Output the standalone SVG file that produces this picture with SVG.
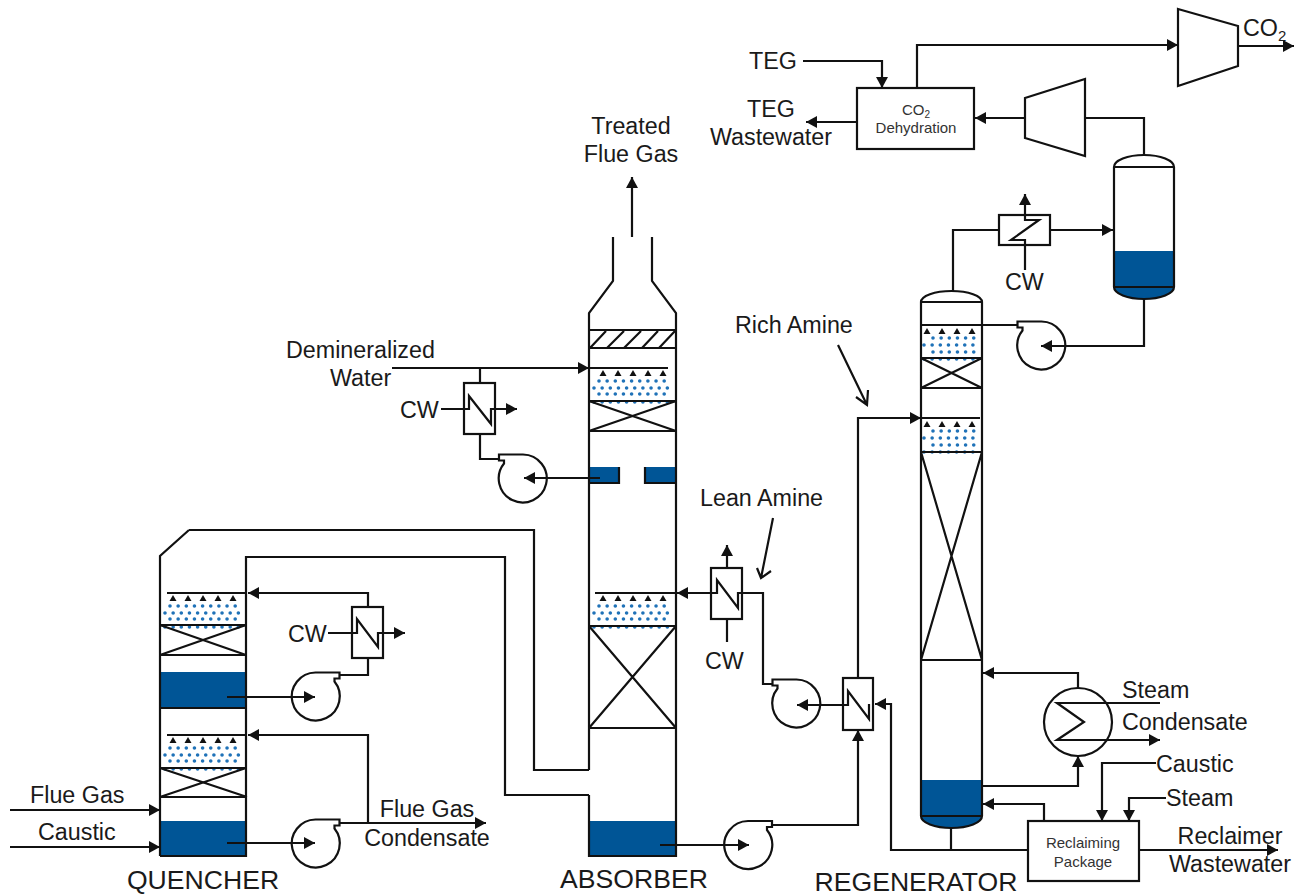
<svg xmlns="http://www.w3.org/2000/svg" xmlns:xlink="http://www.w3.org/1999/xlink" width="1303" height="895" viewBox="0 0 1303 895">
<style>
.l{fill:none;stroke:#111;stroke-width:2.2;stroke-linejoin:miter}
.a{marker-end:url(#ah)}
.w{fill:#fff;stroke:#111;stroke-width:2.2}
.b{fill:#005596;stroke:none}
.d{fill:none;stroke:#1f72b8;stroke-width:3.6;stroke-linecap:round;stroke-dasharray:0 8.15}
.t{font-family:"Liberation Sans",Arial,sans-serif;font-size:23.3px;fill:#1a1a1a}
.m{text-anchor:middle}
.s{font-size:15px;fill:#333}
.x{font-size:26.6px}
.n{fill:#111;stroke:none}
</style>
<defs>
<marker id="ah" markerUnits="userSpaceOnUse" markerWidth="14" markerHeight="14" refX="11" refY="7" orient="auto"><path d="M0,1L11,7L0,13Z" fill="#111"/></marker>
<g id="pump"><path class="l" d="M19,-15A24,24 0 1 1 0,-24H24V-18H19Z"/></g>
<g id="nz"><path class="n" d="M-3.500,6H3.500L0,0Z"/></g>
<g id="noz5"><use xlink:href="#nz" x="0" y="0"/><use xlink:href="#nz" x="15" y="0"/><use xlink:href="#nz" x="30" y="0"/><use xlink:href="#nz" x="45" y="0"/><use xlink:href="#nz" x="60" y="0"/></g>
<g id="noz4"><use xlink:href="#nz" x="0" y="0"/><use xlink:href="#nz" x="15" y="0"/><use xlink:href="#nz" x="30" y="0"/><use xlink:href="#nz" x="45" y="0"/></g>
<g id="d86"><path class="d" d="M10,13H78M5,20H82M10,26H78M5,34H82"/></g>
<g id="d60"><path class="d" d="M12,13H58M3,20H60M12,27H58M3,34H60"/></g>
</defs>
<rect width="1303" height="895" fill="#fff"/>

<g id="quencher">
<rect class="b" x="161" y="672" width="85" height="36"/>
<rect class="b" x="161" y="821" width="85" height="35"/>
<use xlink:href="#d86" x="160" y="593"/>
<use xlink:href="#d86" x="160" y="735"/>
<path class="l" d="M160,856V556L189,530M160,856H246V556M160,625H246M160,655H246M160,625L246,655M160,655L246,625M160,708H246M167,593H246M167,735H246M160,768H246M160,797H247M160,768L247,797M160,797L246,768"/>
<use xlink:href="#noz5" x="173" y="595"/>
<use xlink:href="#noz5" x="173" y="737"/>
<text class="t x m" x="203" y="889">QUENCHER</text>
</g>

<g id="absorber">
<rect class="b" x="590" y="467" width="29" height="16"/>
<rect class="b" x="645" y="467" width="31" height="16"/>
<rect class="b" x="590" y="821" width="86" height="35"/>
<use xlink:href="#d86" x="589" y="368"/>
<use xlink:href="#d86" x="589" y="593"/>
<path class="l" d="M613,237V281L589,313V770M589,795V856H676V313L652,281V237M589,330H676M589,348H676M590,348L606,331M607,348L624,331M624,348L641,331M642,348L658,331M659,348L675,331M589,368H668M589,401H676M589,431H677M589,401L676,431M589,431L676,401M619,467V483H590M645,467V483H676M595,593H676M589,626H676M589,728H677M589,626L676,728M589,728L676,626"/>
<use xlink:href="#noz5" x="603" y="370"/>
<use xlink:href="#noz5" x="603" y="595"/>
<text class="t x m" x="634" y="888">ABSORBER</text>
</g>

<g id="regenerator">
<rect class="b" x="922" y="780" width="60" height="36"/>
<path class="b" d="M921,816H982A30.500,12 0 0 1 921,816Z"/>
<use xlink:href="#d60" x="921" y="325"/>
<use xlink:href="#d60" x="921" y="418"/>
<path class="l" d="M921,816V302A30.500,11 0 0 1 982,302V816A30.500,12 0 0 1 921,816M921,302H982M921,816H982M921,325H982M921,358H982M921,388H982M921,358L982,388M921,388L982,358M921,418H980M921,452H982M921,660H982M921,452L982,660M982,452L921,660"/>
<use xlink:href="#noz4" x="927" y="328"/>
<use xlink:href="#noz4" x="927" y="421"/>
<text class="t x m" x="916" y="891">REGENERATOR</text>
</g>

<g id="reflux-drum">
<rect class="b" x="1115" y="251" width="59" height="36"/>
<path class="b" d="M1114,287H1174A30,12 0 0 1 1114,287Z"/>
<path class="l" d="M1114,287V167A30,12 0 0 1 1174,167V287A30,12 0 0 1 1114,287M1114,167H1174M1114,287H1174"/>
</g>

<g id="dehydration">
<rect class="w" x="857" y="88" width="117" height="61"/>
<text class="t s m" x="916" y="115">CO<tspan font-size="10" dy="3">2</tspan></text>
<text class="t s m" x="916" y="133">Dehydration</text>
</g>

<g id="reclaiming">
<rect class="w" x="1028" y="821" width="111" height="60"/>
<text class="t s m" x="1083" y="848">Reclaiming</text>
<text class="t s m" x="1083" y="867">Package</text>
</g>

<g id="compressor-1"><path class="l" d="M1025,98L1085,79V156L1025,138Z"/></g>
<g id="compressor-2"><path class="l" d="M1178,9L1238,26V66L1178,86Z"/></g>

<g id="reboiler"><circle class="l" cx="1078" cy="722" r="34"/></g>

<g id="pumps">
<use id="pump-q1" xlink:href="#pump" x="315.500" y="696.500"/>
<use id="pump-q2" xlink:href="#pump" x="315.500" y="843.500"/>
<use id="pump-a1" xlink:href="#pump" transform="translate(523,478.500) scale(-1,1)"/>
<use id="pump-a2" xlink:href="#pump" x="748" y="845"/>
<use id="pump-l" xlink:href="#pump" transform="translate(796.500,703.500) scale(-1,1)"/>
<use id="pump-r" xlink:href="#pump" transform="translate(1041.500,345.500) scale(-1,1)"/>
</g>

<g id="exchangers">
<rect class="l" x="352" y="607" width="31" height="51"/>
<rect class="l" x="464" y="383" width="31" height="51"/>
<rect class="l" x="711" y="568" width="31" height="51"/>
<rect class="l" x="843" y="678" width="30" height="52"/>
<rect class="l" x="999" y="215" width="51" height="30"/>
</g>

<g id="connectors">
<path class="l" d="M189,530H534V770H589M246,557H505V795H589"/>
<path class="l a" d="M368,607V593H248"/>
<path class="l" d="M368,658V675H339"/>
<path class="l a" d="M227,697H315"/>
<path class="l a" d="M328,633H357V619L378,647V633H405"/>
<path class="l a" d="M368,823V735H248"/>
<path class="l a" d="M339,823H486"/>
<path class="l a" d="M227,843H315"/>
<path class="l a" d="M10,810H160"/>
<path class="l a" d="M10,847H160"/>
<path class="l a" d="M632,237V177"/>
<path class="l a" d="M392,368H589"/>
<path class="l" d="M480,368V383M480,434V459H499"/>
<path class="l a" d="M441,409H469V396L491,424V409H517"/>
<path class="l a" d="M600,478H524"/>
<path class="l a" d="M772,684H763V593H738V608L717,580V593H677"/>
<path class="l a" d="M727,568V545"/>
<path class="l" d="M727,619V642"/>
<path class="l a" d="M660,845H749"/>
<path class="l a" d="M773,825H858V730"/>
<path class="l a" d="M858,678V418H921"/>
<path class="l a" d="M841,705H797"/>
<path class="l" d="M841,705H848V691L869,719V704"/>
<path class="l a" d="M951,828V850H891V704H875"/>
<path class="l" d="M951,850H1028"/>
<path class="l a" d="M1078,688V673H983"/>
<path class="l a" d="M982,786H1078V756"/>
<path class="l a" d="M1160,703H1057L1084,722L1057,740H1160"/>
<path class="l a" d="M1044,821V804H983"/>
<path class="l a" d="M1156,763H1102V821"/>
<path class="l a" d="M1166,798H1129V821"/>
<path class="l a" d="M1139,850H1278"/>
<path class="l a" d="M1144,299V346H1041"/>
<path class="l" d="M921,325H1017"/>
<path class="l" d="M953,291V230H999"/>
<path class="l a" d="M1050,230H1113"/>
<path class="l a" d="M1025,270V240H1011L1039,220H1025V194"/>
<path class="l" d="M1144,155V118H1085"/>
<path class="l a" d="M1025,118H975"/>
<path class="l a" d="M917,88V45H1178"/>
<path class="l a" d="M1238,46H1294"/>
<path class="l a" d="M803,61H882V88"/>
<path class="l a" d="M857,122H806"/>
<path class="l" d="M838,345L867,405M856,397L867,405L868,390"/>
<path class="l" d="M773,518L761,578M757,568L761,578L771,571"/>
</g>

<g id="labels">
<text class="t m" x="631" y="134">Treated</text>
<text class="t m" x="631" y="162">Flue Gas</text>
<text class="t" x="749" y="69">TEG</text>
<text class="t m" x="771" y="117">TEG</text>
<text class="t m" x="771" y="145">Wastewater</text>
<text class="t" x="1243" y="36">CO<tspan font-size="15" dy="5">2</tspan></text>
<text class="t" x="286" y="358">Demineralized</text>
<text class="t" x="330" y="386">Water</text>
<text class="t" x="400" y="418">CW</text>
<text class="t" x="288" y="642">CW</text>
<text class="t" x="705" y="669">CW</text>
<text class="t" x="1005" y="290">CW</text>
<text class="t" x="735" y="333">Rich Amine</text>
<text class="t" x="700" y="506">Lean Amine</text>
<text class="t" x="30" y="803">Flue Gas</text>
<text class="t" x="38" y="840">Caustic</text>
<text class="t m" x="427" y="817">Flue Gas</text>
<text class="t m" x="427" y="846">Condensate</text>
<text class="t" x="1122" y="698">Steam</text>
<text class="t" x="1122" y="730">Condensate</text>
<text class="t" x="1156" y="772">Caustic</text>
<text class="t" x="1166" y="806">Steam</text>
<text class="t m" x="1230" y="844">Reclaimer</text>
<text class="t m" x="1230" y="872">Wastewater</text>
</g>
</svg>
